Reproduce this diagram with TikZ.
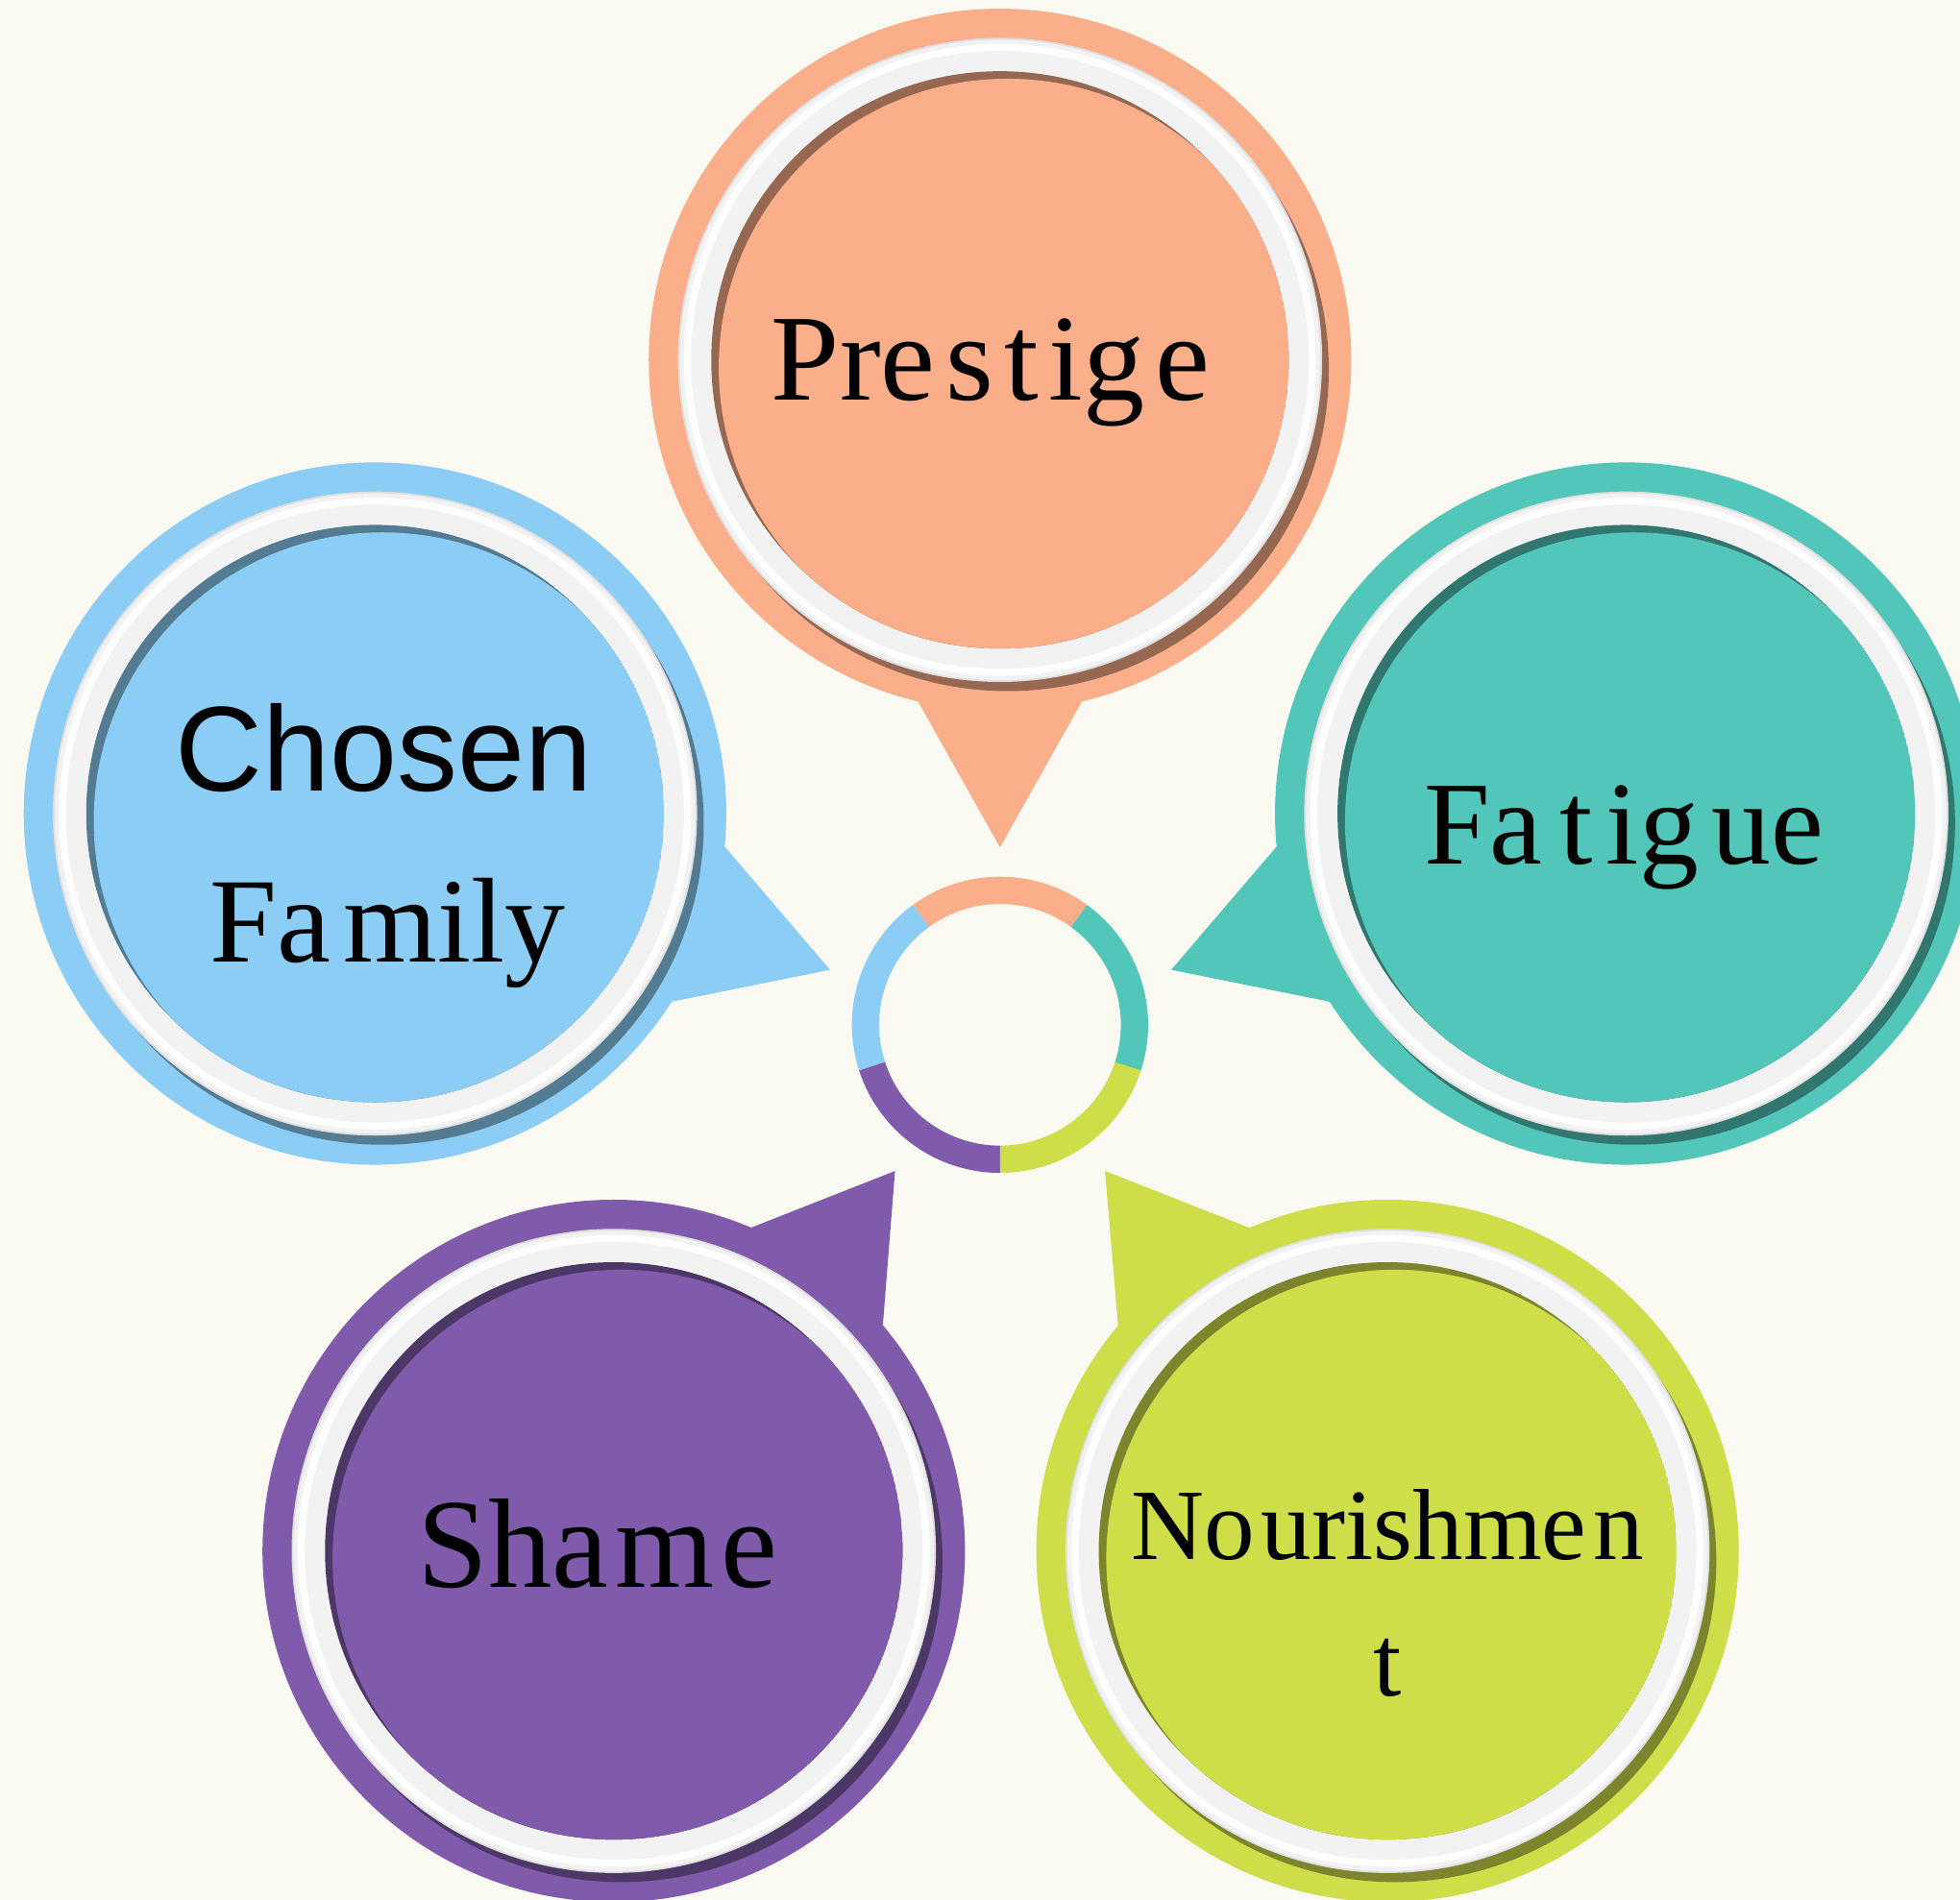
\documentclass[tikz,border=0pt]{standalone}
\usepackage{fontspec}
\setmainfont{Liberation Serif}
\setsansfont{Liberation Sans}
\usepackage{tikz}
\usetikzlibrary{positioning}
\definecolor{bgcream}{RGB}{250,249,242}
\definecolor{ballpeach}{RGB}{250,174,137}
\definecolor{ballteal}{RGB}{82,198,185}
\definecolor{ballblue}{RGB}{139,205,244}
\definecolor{ballpurple}{RGB}{128,91,172}
\definecolor{ballgreen}{RGB}{206,222,72}
\definecolor{ringgray}{RGB}{242,242,242}

\begin{document}
\begin{tikzpicture}[line cap=round,line join=round,x=1cm,y=1cm,
  balltext/.style={inner sep=0pt,anchor=base,text=black}]
\useasboundingbox (0,0) rectangle (15.68,15.2);
\clip (0,0) rectangle (15.68,15.2);
\fill[color=bgcream] (0,0) rectangle (15.68,15.2);
\foreach \cx/\cy/\a/\tx/\ty/\col in {8/12.32/270/8/8.42/ballpeach,13.01/8.69/198.9/9.37/7.44/ballteal,3/8.69/341.1/6.64/7.44/ballblue,4.91/2.79/53.5/7.16/5.83/ballpurple,11.1/2.79/126.6/8.84/5.83/ballgreen}
{
\fill[color=\col] (\cx,\cy) circle (2.81);
\fill[color=\col] (\cx,\cy) ++(\a-13.5:2.81) -- (\tx,\ty) -- ([shift={(\a+13.5:2.81)}]\cx,\cy) -- cycle;
\fill[color=\col!60!black] (\cx+0.06,\cy-0.08) circle (2.57);
\fill[color=ringgray] (\cx,\cy) circle (2.57);
\draw[color=white,line width=1.6pt] (\cx,\cy) circle (2.5);
\draw[color=gray!25,line width=0.4pt] (\cx,\cy) circle (2.57);
\begin{scope}
\clip (\cx,\cy) circle (2.31);
\fill[color=\col!60!black] (\cx,\cy) circle (2.31);
\fill[color=\col] (\cx+0.06,\cy-0.06) circle (2.31);
\end{scope}
}
\foreach \a/\col in {54/ballpeach,-18/ballteal,126/ballblue,198/ballpurple,270/ballgreen}
\fill[color=\col,shift={(8,7)}] (\a:1.185) arc (\a:\a+72:1.185) -- (\a+72:0.967) arc (\a+72:\a:0.967) -- cycle;
\node[balltext,font=\fontsize{28}{34}\selectfont] (prestige) at (7.925,12.0) {Pre\kern2.4pt s\kern2.4pt t\kern2.4pt ig\kern2.4pt e};
\node[balltext,font=\fontsize{27}{32}\selectfont] (fatigue) at (12.99,8.29) {Fa\kern4pt t\kern3pt ig\kern3pt ue};
\node[balltext,font=\sffamily\fontsize{27.5}{33}\selectfont] (chosen) at (3.07,8.87) {Chosen};
\node[balltext,font=\fontsize{27.5}{33}\selectfont] (family) at (3.10,7.50) {Fa\kern3pt mily};
\node[balltext,font=\fontsize{29}{35}\selectfont] (shame) at (4.78,2.50) {Sha\kern1.5pt m\kern1.5pt e};
\node[balltext,font=\fontsize{23}{28}\selectfont] (nourish) at (11.10,2.72) {No\kern1.5pt urishme\kern1.5pt n};
\node[balltext,font=\fontsize{23}{28}\selectfont] (nourisht) at (11.10,1.63) {t};
\end{tikzpicture}
\end{document}
